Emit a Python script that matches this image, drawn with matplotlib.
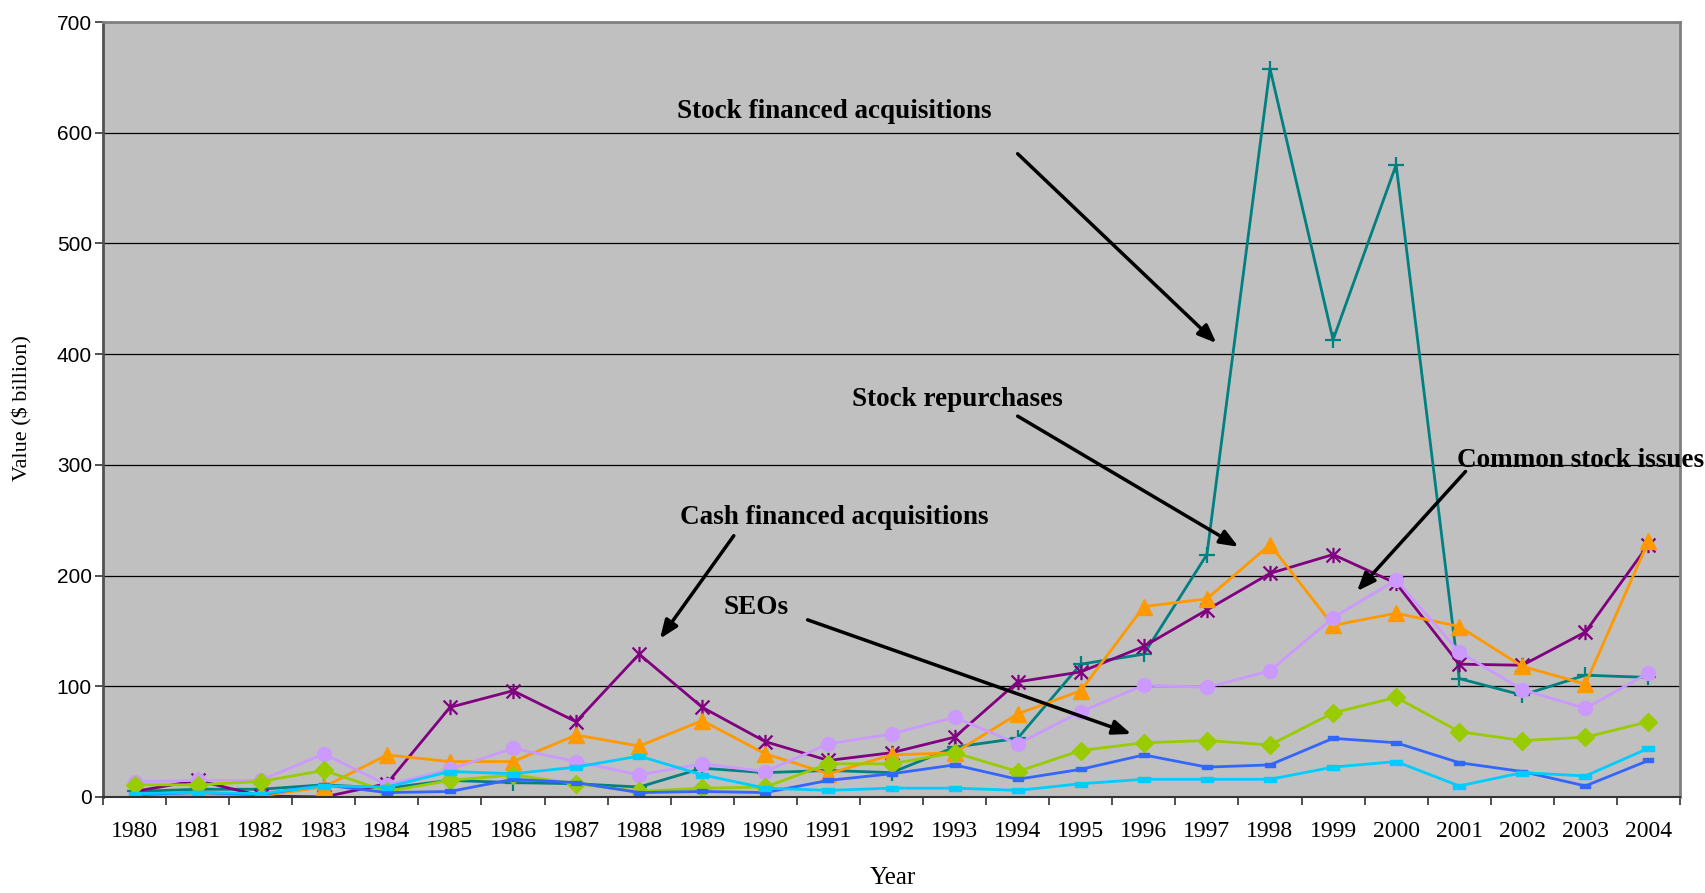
import numpy as np
import matplotlib
matplotlib.use('Agg')
import matplotlib.pyplot as plt
from matplotlib.path import Path

# annual values, $ billion
years = list(range(1980, 2005))
stock_acq = [5, 7, 7, 11, 8, 15, 13, 12, 9, 26, 22, 24, 22, 45, 53, 120, 129, 219, 658, 413, 571, 107, 92, 110, 108]
cash_acq = [5, 15, 1, 0, 12, 81, 96, 68, 129, 81, 50, 33, 40, 54, 104, 113, 136, 169, 202, 219, 193, 120, 119, 149, 228]
repurchases = [0, 1, 1, 9, 38, 32, 32, 56, 46, 69, 39, 21, 38, 40, 75, 96, 172, 179, 228, 155, 166, 154, 118, 102, 231]
common_issues = [14, 15, 15, 39, 11, 25, 44, 32, 20, 30, 23, 48, 57, 72, 48, 77, 101, 99, 114, 162, 196, 131, 97, 80, 112]
seos = [11, 11, 14, 24, 5, 15, 20, 12, 5, 8, 9, 30, 30, 40, 23, 42, 49, 51, 47, 76, 90, 59, 51, 54, 68]
issues_b = [2, 4, 2, 11, 4, 5, 16, 13, 4, 5, 4, 15, 21, 29, 16, 25, 38, 27, 29, 53, 49, 31, 23, 10, 33]
issues_c = [3, 4, 3, 10, 9, 23, 21, 27, 37, 20, 8, 6, 8, 8, 6, 12, 16, 16, 16, 27, 32, 10, 22, 19, 44]

# callouts: label, text centre (year index, value), arrow tail, arrow tip
callouts = [
    ('Stock financed acquisitions', (11.1, 619), (14.0, 581), (17.15, 410)),
    ('Stock repurchases', (13.05, 359), (14.0, 344), (17.5, 226)),
    ('Common stock issues', (22.92, 304), (21.1, 294), (19.38, 186)),
    ('Cash financed acquisitions', (11.1, 252), (9.5, 236), (8.33, 143)),
    ('SEOs', (9.85, 171), (10.67, 160), (15.8, 57)),
]

# excel-style marker shapes
star = Path([(-1, -1), (1, 1), (-1, 1), (1, -1), (0, -1.1), (0, 1.1)],
            [Path.MOVETO, Path.LINETO, Path.MOVETO, Path.LINETO, Path.MOVETO, Path.LINETO])
bar = Path([(-1, -0.45), (1, -0.45), (1, 0.45), (-1, 0.45), (-1, -0.45)],
           [Path.MOVETO, Path.LINETO, Path.LINETO, Path.LINETO, Path.CLOSEPOLY])

fig = plt.figure(figsize=(17.05, 8.93), dpi=100)
fig.patch.set_facecolor('white')
ax = fig.add_axes([103 / 1705, 1 - 797 / 893, 1577 / 1705, 775 / 893])
ax.set_facecolor('#C0C0C0')

x = np.arange(len(years))
series = [
    (stock_acq, '#008080', '+', 12, 1.6),
    (cash_acq, '#800080', star, 11, 1.6),
    (repurchases, '#FF9900', '^', 11, 1),
    (common_issues, '#CC99FF', 'o', 10, 1),
    (seos, '#99CC00', 'D', 9, 1),
    (issues_b, '#3366FF', bar, 7, 1),
    (issues_c, '#00CCFF', bar, 8, 1),
]
for vals, col, mk, ms, mew in series:
    ax.plot(x, vals, color=col, lw=2, marker=mk, markersize=ms,
            markerfacecolor=col, markeredgecolor=col, markeredgewidth=mew)

# category axis: ticks between years, labels centred on years
ax.set_xlim(-0.5, len(years) - 0.5)
ax.set_xticks(np.arange(-0.5, len(years)), labels=[])
ax.set_xticks(x, labels=[str(y) for y in years], minor=True)
ax.tick_params(axis='x', which='major', length=6, width=1.2, color='#333333', direction='out')
ax.tick_params(axis='x', which='minor', length=0, pad=17, labelsize=17)
for lab in ax.get_xticklabels(minor=True):
    lab.set_family('Liberation Serif')

ax.set_ylim(0, 700)
ax.set_yticks(np.arange(0, 701, 100))
ax.tick_params(axis='y', length=6, width=1.2, color='#333333', pad=2, labelsize=15)
for lab in ax.get_yticklabels():
    lab.set_family('Liberation Sans')

ax.yaxis.grid(True, color='black', lw=0.9)
ax.set_axisbelow(True)

for side in ['top', 'right']:
    ax.spines[side].set_color('#808080')
    ax.spines[side].set_linewidth(2)
ax.spines['left'].set_color('#505050')
ax.spines['left'].set_linewidth(2)
ax.spines['bottom'].set_color('#333333')
ax.spines['bottom'].set_linewidth(1.5)

ax.set_xlabel('Year', family='Liberation Serif', fontsize=18)
ax.xaxis.set_label_coords((893 - 103) / 1577, (797 - 878) / 775)
ax.xaxis.label.set_va('center')
ax.set_ylabel('Value ($ billion)', family='Liberation Serif', fontsize=16)
ax.yaxis.set_label_coords((22 - 103) / 1577, (797 - 408) / 775)
ax.yaxis.label.set_va('center')

for label, pos, tail, tip in callouts:
    ax.text(pos[0], pos[1], label, ha='center', va='center', fontsize=19.5,
            fontweight='bold', family='Liberation Serif',
            clip_on=False, zorder=6)
    ax.annotate('', xy=tip, xytext=tail, zorder=6,
                arrowprops=dict(arrowstyle='-|>,head_length=0.55,head_width=0.22',
                                color='black', lw=2.5, mutation_scale=20,
                                shrinkA=0, shrinkB=0))

fig.savefig('out.png', dpi=100)
